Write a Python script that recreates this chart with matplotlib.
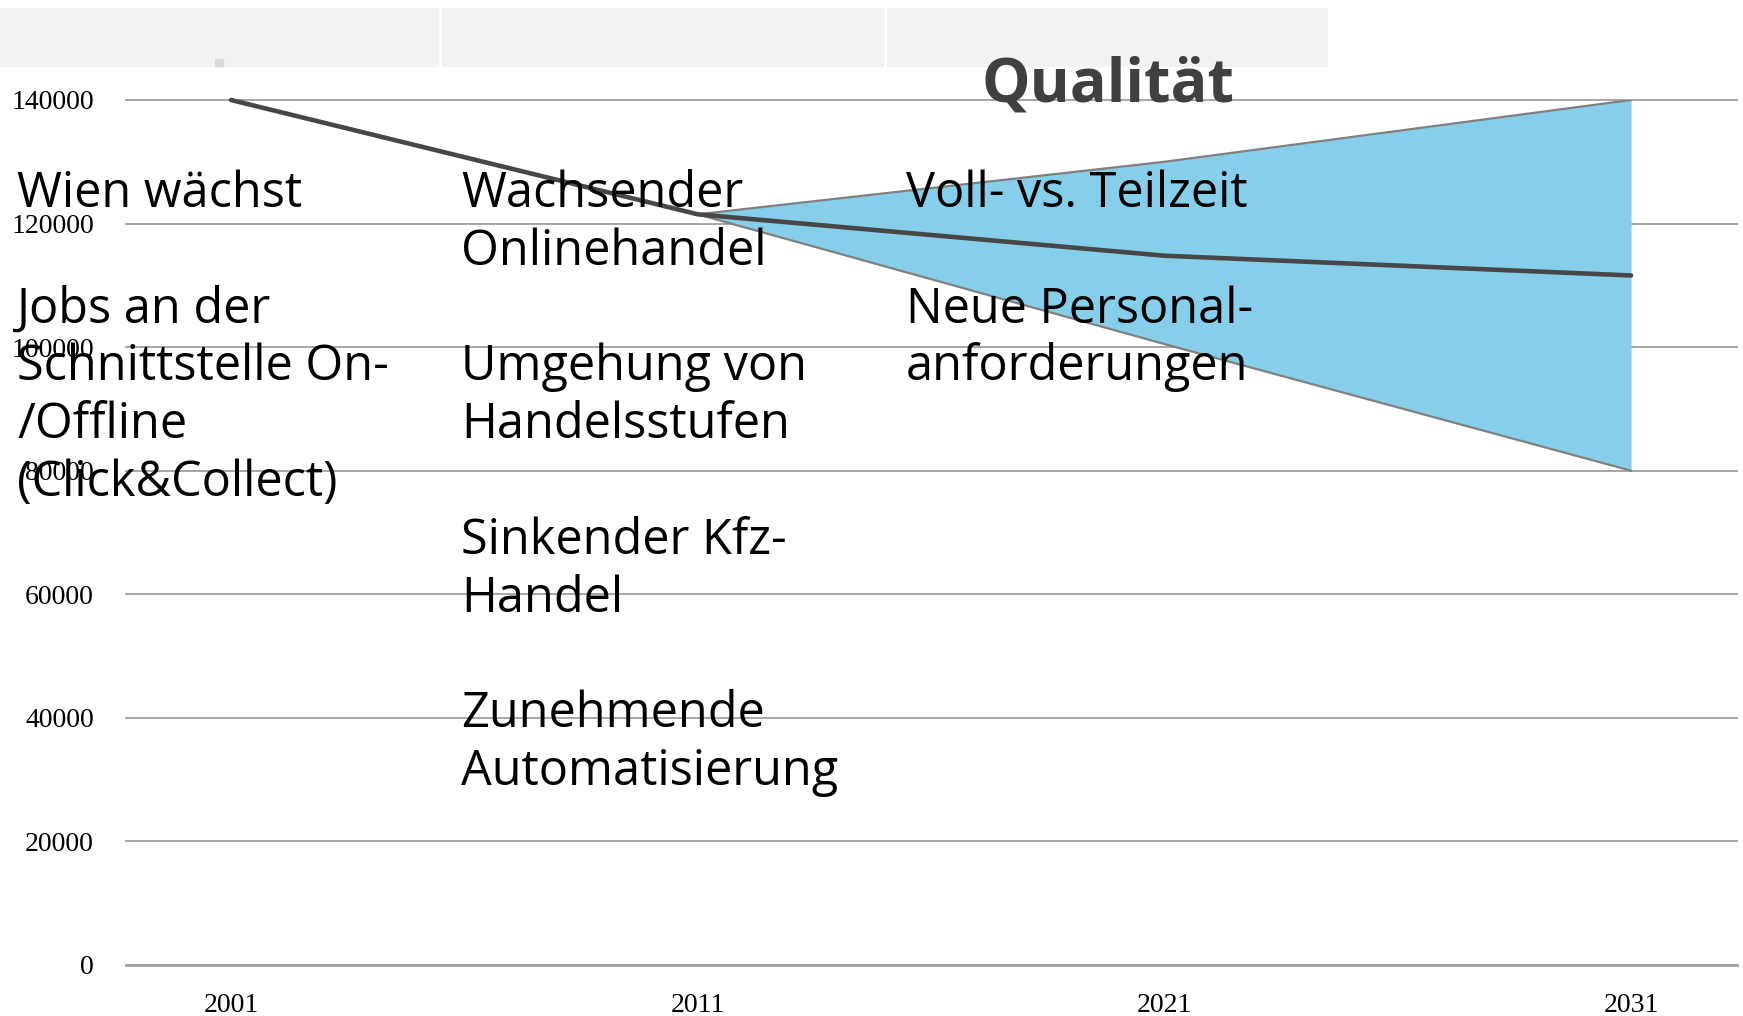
import matplotlib
matplotlib.use("Agg")
import matplotlib.pyplot as plt
from matplotlib.patches import Rectangle

# data
years = [2001, 2011, 2021, 2031]
trend = [140000, 121500, 114800, 111600]
proj_years = [2011, 2021, 2031]
upper = [121500, 130000, 140000]
lower = [121500, 100500, 80000]
yticks = [0, 20000, 40000, 60000, 80000, 100000, 120000, 140000]

col1 = ["Wien wächst", "", "Jobs an der", "Schnittstelle On-", "/Offline", "(Click&Collect)"]
col2 = ["Wachsender", "Onlinehandel", "", "Umgehung von", "Handelsstufen", "",
        "Sinkender Kfz-", "Handel", "", "Zunehmende", "Automatisierung"]
col3 = ["Voll- vs. Teilzeit", "", "Neue Personal-", "anforderungen"]
title = "Qualität"

W, H = 1743, 1016
fig = plt.figure(figsize=(W / 100, H / 100), dpi=100)


def px(x, y):
    return x / W, 1 - y / H


# grey header boxes
for x0, x1 in [(0, 438), (442, 883), (887, 1327)]:
    fig.patches.append(Rectangle(px(x0, 66), (x1 - x0) / W, 58 / H,
                                 transform=fig.transFigure, color="#f2f2f2", zorder=0))
fig.patches.append(Rectangle(px(215, 66), 8 / W, 7 / H,
                             transform=fig.transFigure, color="#d9d9d9", zorder=0))

ax = fig.add_axes([126 / W, 1 - 965 / H, (1737 - 126) / W, 865 / H])
ax.set_facecolor("none")

ax.fill_between(proj_years, lower, upper, color="skyblue", lw=0, zorder=2)
ax.plot(proj_years, upper, color="#808080", lw=1.6, zorder=3)
ax.plot(proj_years, lower, color="#808080", lw=1.6, zorder=3)
ax.plot(years, trend, color="#474747", lw=3.3, zorder=4, solid_capstyle="round", clip_on=False)

ax.set_xlim(1998.75, 2033.27)
ax.set_ylim(0, 140000)
ax.set_xticks(years)
ax.set_xticklabels([str(y) for y in years])
ax.set_yticks(yticks)
ax.set_yticklabels([str(v) for v in yticks])
ax.grid(axis="y", color="#a6a6a6", lw=1.4, zorder=1)
ax.set_axisbelow(True)
for gl in ax.get_ygridlines():
    gl.set_clip_on(False)
for s in ["top", "right", "left"]:
    ax.spines[s].set_visible(False)
ax.spines["bottom"].set_color("#a0a0a0")
ax.spines["bottom"].set_linewidth(2)
ax.tick_params(length=0, labelsize=20)
ax.tick_params(axis="y", pad=23)
ax.tick_params(axis="x", pad=20)
for lab in ax.get_xticklabels() + ax.get_yticklabels():
    lab.set_fontfamily("Liberation Serif")

# text columns
pitch = 57.8
base0 = 207
for xcol, lines in [(17, col1), (461, col2), (906, col3)]:
    for i, txt in enumerate(lines):
        if txt:
            fig.text(*px(xcol, base0 + i * pitch), txt, fontsize=35,
                     family="Open Sans", color="black", va="baseline", ha="left", zorder=10)

fig.text(*px(1108, 102), title, fontsize=44, family="Open Sans", weight="bold",
         color="#404040", ha="center", va="baseline", zorder=10)

fig.savefig("out.png", dpi=100)
